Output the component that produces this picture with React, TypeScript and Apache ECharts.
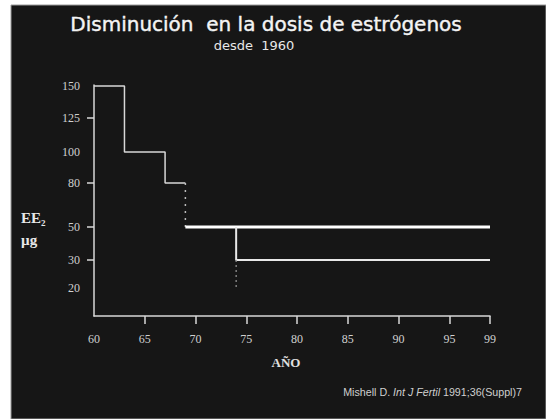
import React, { useEffect, useRef } from "react";
import * as echarts from "echarts";

// Axis tick labels
const yTickDoses = [20, 30, 50, 80, 100, 125, 150];
// the original slide's y axis is not linear: each dose label has its own height (axis units)
const yTickPositions = [28, 56, 89, 133, 164, 198, 230];
const yTickMarkDoses = [30, 50, 80, 125];
const xTickYears = [60, 65, 70, 75, 80, 85, 90, 95, 99];

// Series (year, dose in µg of EE2)
const highDoseYears = [60, 63, 63, 67, 67, 69];
const highDoseValues = [150, 150, 100, 100, 80, 80];
const drop80Years = [69, 69];
const drop80Values = [80, 50];
const dose50Years = [69, 99];
const dose50Values = [50, 50];
const dose30Years = [74, 74, 99];
const dose30Values = [50, 30, 30];
const drop20Years = [74, 74];
const drop20Values = [30, 20];

function toPos(dose: number): number {
  if (dose <= yTickDoses[0]) return (dose / yTickDoses[0]) * yTickPositions[0];
  for (let i = 1; i < yTickDoses.length; i++) {
    if (dose <= yTickDoses[i]) {
      const t = (dose - yTickDoses[i - 1]) / (yTickDoses[i] - yTickDoses[i - 1]);
      return yTickPositions[i - 1] + t * (yTickPositions[i] - yTickPositions[i - 1]);
    }
  }
  return yTickPositions[yTickPositions.length - 1];
}

function pts(xs: number[], ys: number[]) {
  return xs.map((x, i) => [x, toPos(ys[i])]);
}

export default function App() {
  const ref = useRef<HTMLDivElement>(null);
  useEffect(() => {
    if (!ref.current) return;
    const chart = echarts.init(ref.current, null, { renderer: "svg" });
    const serif = "'Liberation Serif', 'DejaVu Serif', serif";
    const lineSeries = (name: string, data: number[][], width: number, color: string, type: any = "solid") => ({
      name,
      type: "line",
      data,
      symbol: "none",
      silent: true,
      lineStyle: { width, color, type },
    });
    chart.setOption({
      animation: false,
      backgroundColor: "transparent",
      graphic: [
        { type: "rect", shape: { x: 11, y: 5, width: 535, height: 414 }, style: { fill: "#161616", stroke: "#9a9a9a", lineWidth: 1 }, z: -10 },
        {
          type: "text",
          x: 266,
          y: 24,
          style: {
            text: "Disminución  en la dosis de estrógenos",
            fill: "#f4f4f4",
            stroke: "#f4f4f4",
            lineWidth: 0.4,
            font: "20px 'DejaVu Sans', sans-serif",
            align: "center",
            verticalAlign: "middle",
          },
        },
        {
          type: "text",
          x: 254,
          y: 45,
          style: { text: "desde  1960", fill: "#e8e8e8", font: "13px 'DejaVu Sans', sans-serif", align: "center", verticalAlign: "middle" },
        },
        {
          type: "text",
          x: 21,
          y: 218,
          style: { text: "EE₂", fill: "#e8e8e8", font: `bold 15px ${serif}`, align: "left", verticalAlign: "middle" },
        },
        {
          type: "text",
          x: 21,
          y: 240,
          style: { text: "µg", fill: "#e8e8e8", font: `bold 15px ${serif}`, align: "left", verticalAlign: "middle" },
        },
        {
          type: "text",
          x: 286,
          y: 362,
          style: { text: "AÑO", fill: "#e0e0e0", font: `bold 13px ${serif}`, align: "center", verticalAlign: "middle" },
        },
        {
          type: "text",
          x: 522,
          y: 392,
          style: {
            text: "{n|Mishell D. }{i|Int J Fertil}{n| 1991;36(Suppl)7}",
            align: "right",
            verticalAlign: "middle",
            rich: {
              n: { fill: "#cfcfcf", font: "10.7px 'Liberation Sans', Arial, sans-serif" },
              i: { fill: "#cfcfcf", font: "italic 10.7px 'Liberation Sans', Arial, sans-serif" },
            },
          },
        },
      ],
      grid: { left: 94, top: 85, right: 56, bottom: 103, containLabel: false },
      xAxis: {
        type: "value",
        min: 60,
        max: 99,
        splitLine: { show: false },
        axisLine: { show: true, lineStyle: { color: "#d8d8d8", width: 1.5 } },
        axisTick: { show: true, customValues: xTickYears.slice(1), length: 8, lineStyle: { color: "#d8d8d8", width: 1.5 } },
        axisLabel: {
          customValues: xTickYears,
          color: "#d0d0d0",
          fontFamily: serif,
          fontSize: 12,
          margin: 17,
          formatter: (v: number) => String(v),
        },
      },
      yAxis: {
        type: "value",
        min: 0,
        max: 231,
        splitLine: { show: false },
        axisLine: { show: true, lineStyle: { color: "#d8d8d8", width: 1.5 } },
        axisTick: {
          show: true,
          customValues: yTickMarkDoses.map(toPos),
          length: 7,
          lineStyle: { color: "#d8d8d8", width: 1.5 },
        },
        axisLabel: {
          customValues: yTickPositions,
          color: "#d0d0d0",
          fontFamily: serif,
          fontSize: 12,
          margin: 14,
          formatter: (v: number) => {
            const i = yTickPositions.indexOf(v);
            return i >= 0 ? String(yTickDoses[i]) : "";
          },
        },
      },
      series: [
        lineSeries("alta", pts(highDoseYears, highDoseValues), 1.5, "#d8d8d8"),
        lineSeries("caida80", pts(drop80Years, drop80Values), 1.5, "#bbbbbb", [2, 5]),
        lineSeries("50", pts(dose50Years, dose50Values), 3, "#ffffff"),
        lineSeries("30", pts(dose30Years, dose30Values), 2, "#e8e8e8"),
        lineSeries("caida20", pts(drop20Years, drop20Values), 1.2, "#9a9a9a", [2, 3]),
      ],
    });
    return () => chart.dispose();
  }, []);
  return (
    <div style={{ position: "absolute", left: 0, top: 0, width: 546, height: 419, background: "#ffffff" }}>
      <div ref={ref} style={{ width: 546, height: 419 }} />
    </div>
  );
}
